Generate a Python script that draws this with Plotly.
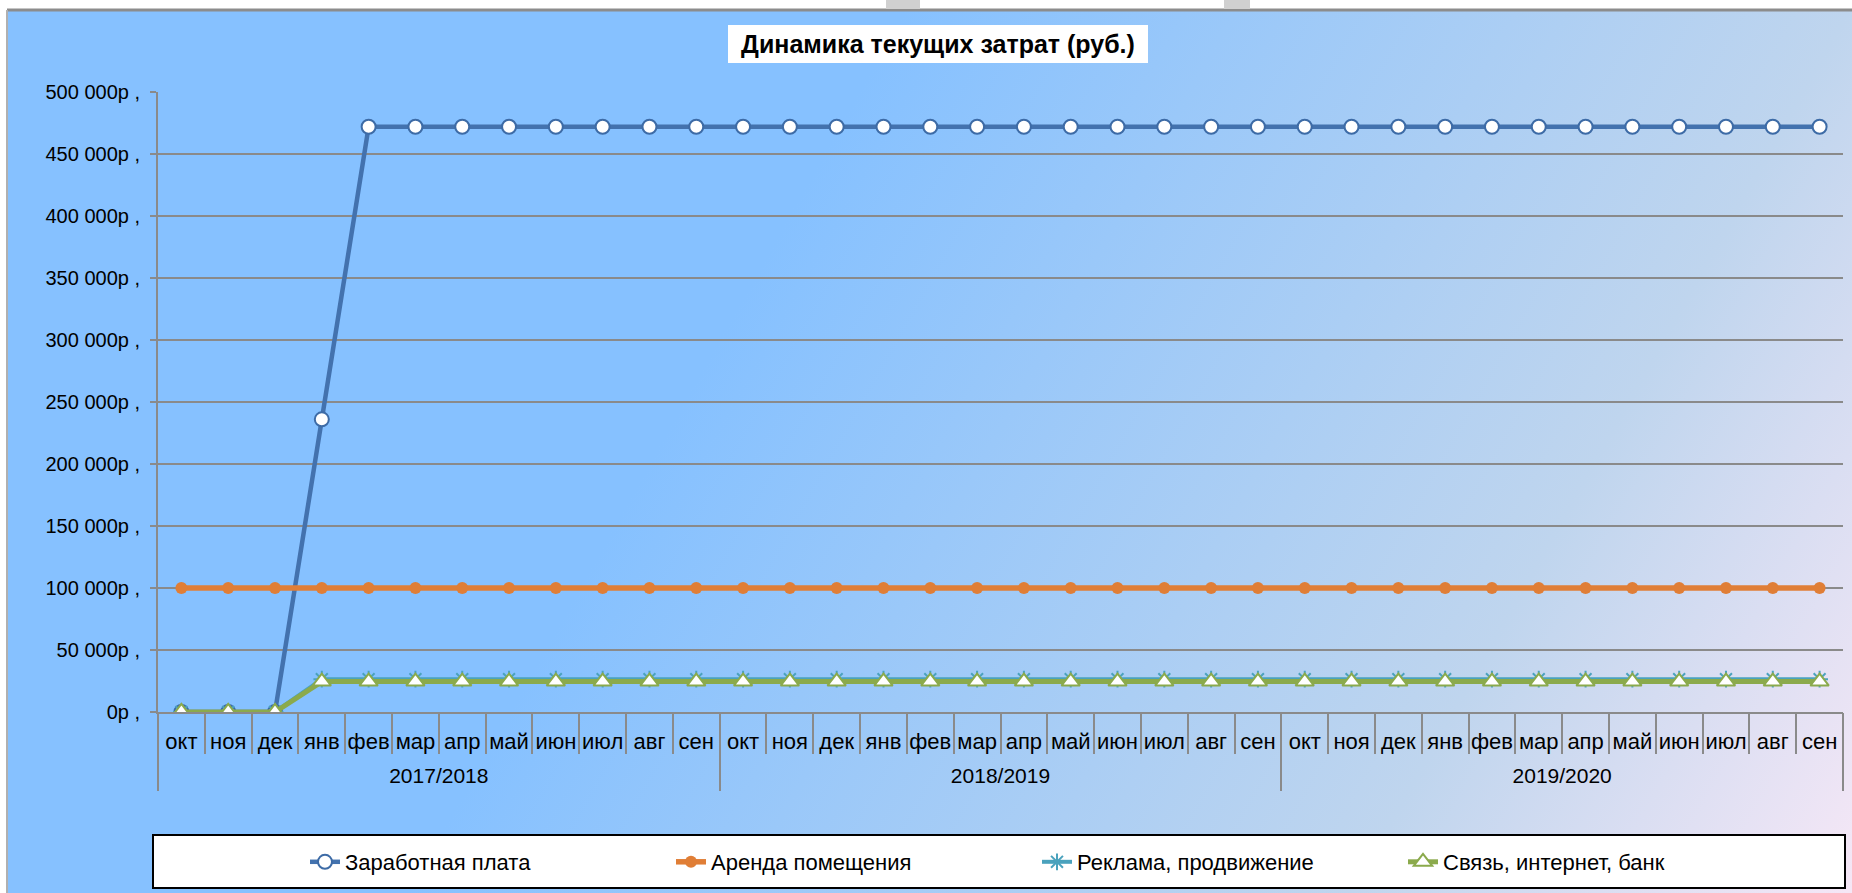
import base64
import plotly.graph_objects as go

# ---- data ----
years = ["2017/2018", "2018/2019", "2019/2020"]
months = ["окт", "ноя", "дек", "янв", "фев", "мар", "апр", "май", "июн", "июл", "авг", "сен"]

salary = [0, 0, 0, 236000, 472000, 472000, 472000, 472000, 472000, 472000, 472000, 472000,
          472000, 472000, 472000, 472000, 472000, 472000, 472000, 472000, 472000, 472000, 472000, 472000,
          472000, 472000, 472000, 472000, 472000, 472000, 472000, 472000, 472000, 472000, 472000, 472000]
rent = [100000, 100000, 100000, 100000, 100000, 100000, 100000, 100000, 100000, 100000, 100000, 100000,
        100000, 100000, 100000, 100000, 100000, 100000, 100000, 100000, 100000, 100000, 100000, 100000,
        100000, 100000, 100000, 100000, 100000, 100000, 100000, 100000, 100000, 100000, 100000, 100000]
advert = [0, 0, 0, 26500, 26500, 26500, 26500, 26500, 26500, 26500, 26500, 26500,
          26500, 26500, 26500, 26500, 26500, 26500, 26500, 26500, 26500, 26500, 26500, 26500,
          26500, 26500, 26500, 26500, 26500, 26500, 26500, 26500, 26500, 26500, 26500, 26500]
comms = [0, 0, 0, 24500, 24500, 24500, 24500, 24500, 24500, 24500, 24500, 24500,
         24500, 24500, 24500, 24500, 24500, 24500, 24500, 24500, 24500, 24500, 24500, 24500,
         24500, 24500, 24500, 24500, 24500, 24500, 24500, 24500, 24500, 24500, 24500, 24500]

series_names = ["Заработная плата", "Аренда помещения", "Реклама, продвижение", "Связь, интернет, банк"]

W, H = 1852, 893
FONT = "Liberation Sans, Arial, sans-serif"
GRID = "#8a8a8a"
CLEAR = "rgba(0,0,0,0)"

# one slot per month, months repeat inside each financial year
n_m = len(months)
x_idx = list(range(n_m * len(years)))
month_text = [m for _ in years for m in months]
month_edges = [i - 0.5 for i in range(len(x_idx) + 1)]
year_centers = [k * n_m + (n_m - 1) / 2 for k in range(len(years))]
year_edges = [k * n_m - 0.5 for k in range(len(years) + 1)]
x_rng = [-0.5, len(x_idx) - 0.5]


def px_x(p):
    return p / W


def px_y(p):
    return (H - p) / H


# gradient background of the chart area (svg data uri)
svg = (
    '<svg xmlns="http://www.w3.org/2000/svg" width="1845" height="883" viewBox="0 0 1845 883" '
    'preserveAspectRatio="none"><defs><linearGradient id="g" gradientUnits="userSpaceOnUse" '
    'x1="0" y1="0" x2="1775" y2="1000">'
    '<stop offset="0.384" stop-color="#86C1FF"/>'
    '<stop offset="0.788" stop-color="#BFD5EE"/>'
    '<stop offset="1" stop-color="#F5E7F6"/>'
    '</linearGradient></defs><rect width="1845" height="883" fill="url(#g)"/></svg>'
)
bg_src = "data:image/svg+xml;base64," + base64.b64encode(svg.encode()).decode()

fig = go.Figure()

fig.add_trace(go.Scatter(
    x=x_idx, y=salary, name=series_names[0], mode="lines+markers",
    line=dict(color="#4372AE", width=4.5),
    marker=dict(symbol="circle", size=14, color="white", line=dict(color="#3D6BA6", width=2)),
))
fig.add_trace(go.Scatter(
    x=x_idx, y=rent, name=series_names[1], mode="lines+markers",
    line=dict(color="#E07E36", width=5.5),
    marker=dict(symbol="circle", size=12, color="#E07E36"),
))
fig.add_trace(go.Scatter(
    x=x_idx, y=advert, name=series_names[2], mode="lines+markers",
    line=dict(color="#4AA2BD", width=4),
    marker=dict(symbol="asterisk-open", size=14, color="#4AA2BD", line=dict(color="#4AA2BD", width=2)),
))
fig.add_trace(go.Scatter(
    x=x_idx, y=comms, name=series_names[3], mode="lines+markers",
    line=dict(color="#8BAA4C", width=5),
    marker=dict(symbol="triangle-up", size=16, color="white", line=dict(color="#8BAA4C", width=2)),
))
# helper trace so the year-label overlay axis gets drawn
fig.add_trace(go.Scatter(x=[], y=[], xaxis="x2", showlegend=False, hoverinfo="skip"))

x_dom = [px_x(158), px_x(1843)]
y_dom = [px_y(712), px_y(92)]

fig.update_layout(
    width=W, height=H,
    margin=dict(l=0, r=0, t=0, b=0, autoexpand=False),
    paper_bgcolor="white",
    plot_bgcolor=CLEAR,
    separators=", ",
    font=dict(family=FONT, color="black"),
    title=dict(
        text="<b>Динамика текущих затрат (руб.)</b>",
        x=px_x(938), y=px_y(44), xanchor="center", yanchor="middle",
        font=dict(size=25, family=FONT, color="black"),
    ),
    xaxis=dict(
        domain=x_dom, range=x_rng, automargin=False,
        tickmode="array", tickvals=x_idx, ticktext=month_text,
        ticks="outside", ticklen=9, tickcolor=CLEAR, tickangle=0,
        tickfont=dict(size=22),
        minor=dict(tickvals=month_edges, ticks="outside", ticklen=40, tickwidth=2, tickcolor=GRID,
                   showgrid=False),
        showgrid=False, zeroline=False, showline=True, linecolor=GRID, linewidth=2,
    ),
    xaxis2=dict(
        domain=x_dom, overlaying="x", anchor="y", side="bottom", range=x_rng, automargin=False,
        tickmode="array", tickvals=year_centers, ticktext=years,
        ticks="outside", ticklen=45, tickcolor=CLEAR, tickangle=0,
        tickfont=dict(size=21),
        minor=dict(tickvals=year_edges, ticks="outside", ticklen=78, tickwidth=2, tickcolor=GRID,
                   showgrid=False),
        showgrid=False, zeroline=False, showline=False,
    ),
    yaxis=dict(
        domain=y_dom, range=[0, 500000], dtick=50000, automargin=False,
        tickformat=",d", ticksuffix="р ,",
        showgrid=True, gridcolor=GRID, gridwidth=2,
        showline=True, linecolor=GRID, linewidth=2,
        ticks="outside", ticklen=6, tickwidth=2, tickcolor=GRID,
        zeroline=False, tickfont=dict(size=20), ticklabelstandoff=6,
    ),
    legend=dict(
        orientation="h", x=px_x(305), y=px_y(862), xanchor="left", yanchor="middle",
        bgcolor=CLEAR, font=dict(size=22, family=FONT),
        entrywidth=321, entrywidthmode="pixels",
    ),
    images=[dict(
        source=bg_src, xref="paper", yref="paper",
        x=px_x(7), y=px_y(10), sizex=(W - 7) / W, sizey=(H - 10) / H,
        xanchor="left", yanchor="top", sizing="stretch", layer="below",
    )],
    shapes=[
        # chart border
        dict(type="line", xref="paper", yref="paper", x0=px_x(7), x1=1, y0=px_y(10), y1=px_y(10),
             line=dict(color="#8c8c8c", width=3), layer="above"),
        dict(type="line", xref="paper", yref="paper", x0=px_x(7), x1=px_x(7), y0=0, y1=px_y(10),
             line=dict(color="#b0b0b0", width=2), layer="above"),
        # resize handles on the top border
        dict(type="rect", xref="paper", yref="paper", x0=px_x(886), x1=px_x(920), y0=px_y(9), y1=1,
             fillcolor="#d0d0d0", line=dict(width=0), layer="above"),
        dict(type="rect", xref="paper", yref="paper", x0=px_x(1224), x1=px_x(1250), y0=px_y(9), y1=1,
             fillcolor="#d0d0d0", line=dict(width=0), layer="above"),
        # title box
        dict(type="rect", xref="paper", yref="paper", x0=px_x(728), x1=px_x(1148), y0=px_y(63), y1=px_y(25),
             fillcolor="white", line=dict(width=0), layer="above"),
        # legend box
        dict(type="rect", xref="paper", yref="paper", x0=px_x(153), x1=px_x(1845), y0=px_y(888), y1=px_y(835),
             fillcolor="white", line=dict(color="black", width=2), layer="above"),
    ],
)

fig.write_html("out.html", config={"displayModeBar": False},
               post_script="document.body.style.margin='0';")
